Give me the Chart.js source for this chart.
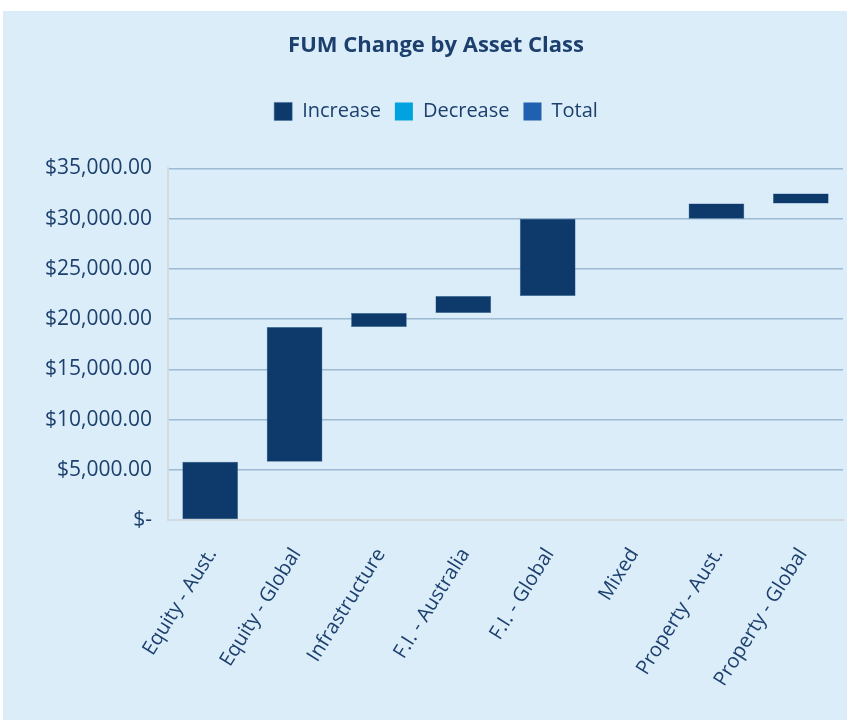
<!DOCTYPE html>
<html>
<head>
<meta charset="utf-8">
<title>FUM Change by Asset Class</title>
<script src="https://cdn.jsdelivr.net/npm/chart.js@4.4.1/dist/chart.umd.min.js"></script>
<style>
    html, body {
        margin: 0;
        padding: 0;
        background: #ffffff;
    }
    .chart-box {
        position: absolute;
        left: 3px;
        top: 11px;
        width: 844px;
        height: 709px;
        background: #daedf8;
    }
</style>
</head>
<body>
<div class="chart-box">
    <canvas id="fumChart" width="844" height="709"></canvas>
</div>
<script>
// Categories and waterfall values (start, end)
const categories = [
    'Equity - Aust.',
    'Equity - Global',
    'Infrastructure',
    'F.I. - Australia',
    'F.I. - Global',
    'Mixed',
    'Property - Aust.',
    'Property - Global'
];
const increaseStart = [0, 5800, 19200, 20600, 22300, null, 30000, 31500];
const increaseEnd = [5800, 19200, 20600, 22300, 30000, null, 31500, 32500];
const decreaseValues = [null, null, null, null, null, null, null, null];
const totalValues = [null, null, null, null, null, null, null, null];
const yTicks = [0, 5000, 10000, 15000, 20000, 25000, 30000, 35000];

const textColor = '#1c3f6e';
const fontFamily = '"Open Sans", "Noto Sans", sans-serif';

function toRange(starts, ends) {
    return starts.map(function(s, i) {
        if (s === null || ends[i] === null) return null;
        return [s, ends[i]];
    });
}

function money(v) {
    if (v === 0) return '$-';
    return '$' + v.toLocaleString('en-US', { minimumFractionDigits: 2, maximumFractionDigits: 2 });
}

// Push the plot area down a bit below the legend
const legendMargin = {
    id: 'legendMargin',
    beforeInit(chart) {
        const fit = chart.legend.fit;
        chart.legend.fit = function() {
            fit.bind(chart.legend)();
            this.height += 37;
        };
    }
};

document.addEventListener('DOMContentLoaded', function() {
    const ctx = document.getElementById('fumChart').getContext('2d');

    new Chart(ctx, {
        type: 'bar',
        data: {
            labels: categories,
            datasets: [{
                label: 'Increase',
                data: toRange(increaseStart, increaseEnd),
                backgroundColor: '#0d3a6b',
                borderColor: '#3f6a96',
                borderWidth: 0.5,
                borderSkipped: false
            }, {
                label: 'Decrease',
                data: decreaseValues,
                backgroundColor: '#00a3e0'
            }, {
                label: 'Total',
                data: totalValues,
                backgroundColor: '#2160b0'
            }]
        },
        plugins: [legendMargin],
        options: {
            responsive: false,
            animation: false,
            grouped: false,
            categoryPercentage: 1,
            barPercentage: 0.66,
            layout: {
                padding: { left: 26, right: 4, top: 0, bottom: 0 }
            },
            plugins: {
                title: {
                    display: true,
                    text: 'FUM Change by Asset Class',
                    color: textColor,
                    font: { size: 22, weight: 'bold', family: fontFamily },
                    padding: { top: 22, bottom: 28 }
                },
                legend: {
                    position: 'top',
                    labels: {
                        color: textColor,
                        font: { size: 20, family: fontFamily },
                        boxWidth: 18,
                        boxHeight: 18,
                        padding: 14
                    }
                },
                tooltip: { enabled: false }
            },
            scales: {
                x: {
                    afterFit: function(scale) {
                        scale.height = 200;
                    },
                    grid: { display: false, drawTicks: false },
                    border: { color: '#d3dbe1', width: 2 },
                    ticks: {
                        color: textColor,
                        font: { size: 20, family: fontFamily },
                        maxRotation: 58,
                        minRotation: 58,
                        padding: 24,
                        labelOffset: 2,
                        autoSkip: false
                    }
                },
                y: {
                    min: 0,
                    max: 35000,
                    afterBuildTicks: function(axis) {
                        axis.ticks = yTicks.map(function(v) { return { value: v }; });
                    },
                    grid: { color: '#9dbad3', lineWidth: 1.5, drawTicks: false },
                    border: { color: '#d3dbe1', width: 2 },
                    ticks: {
                        color: textColor,
                        font: { size: 21, family: fontFamily },
                        padding: 16,
                        callback: function(value) { return money(value); }
                    }
                }
            }
        }
    });
});
</script>
</body>
</html>
